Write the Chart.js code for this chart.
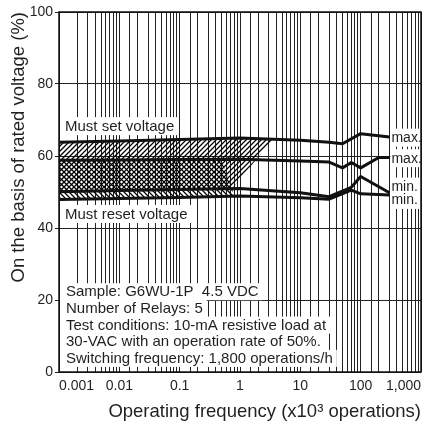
<!DOCTYPE html>
<html><head><meta charset="utf-8">
<script src="https://cdn.jsdelivr.net/npm/chart.js@4.4.1/dist/chart.umd.min.js"></script>
<style>html,body{margin:0;padding:0;background:#fff;}#wrap{width:428px;height:423px;}</style>
</head><body><div id="wrap"><canvas id="c" width="428" height="423"></canvas></div>
<script>
// ---- data ----
const xs        = [0.001, 0.01, 0.1, 1, 10, 30, 50, 70, 100, 200, 300];
const setMax    = [63.8, 64.2, 64.6, 65.0, 64.4, 63.8, 63.4, null, 66.2, null, 65.3];
const setMin    = [58.8, 58.9, 59.0, 59.1, 58.6, 58.3, 56.7, 58.2, 56.7, 59.6, 59.6];
const resetMax  = [50.1, 50.4, 50.7, 51.0, 49.8, 48.7, null, 51.3, 54.3, null, 49.8];
const resetMin  = [47.9, 48.2, 48.5, 48.9, 48.4, 48.0, null, 50.5, 49.5, null, 49.2];
const xTickValues = [0.001, 0.01, 0.1, 1, 10, 100, 1000];
const xTickLabels = ['0.001', '0.01', '0.1', '1', '10', '100', '1,000'];
const yTickValues = [0, 20, 40, 60, 80, 100];
// hatch right edges (x values at upper / lower boundary)
const setHatchEdge = [3.5, 0.75];
const resetHatchEdge = [0.49, 0.81];
const rightLabels = [['max.', 65.1], ['max.', 59.4], ['min.', 51.5], ['min.', 47.8]];
const notes = ['Sample: G6WU-1P  4.5 VDC', 'Number of Relays: 5', 'Test conditions: 10-mA resistive load at',
  '30-VAC with an operation rate of 50%.', 'Switching frequency: 1,800 operations/h'];

const FONT = '"Liberation Sans", Arial, Helvetica, sans-serif';
const TXT = '#231f20';

function toPts(vals) { return xs.map((x, i) => ({x, y: vals[i]})).filter(p => p.y !== null); }
function ds(vals) { return {data: toPts(vals), borderColor: '#111', borderWidth: 3, pointRadius: 0, tension: 0, fill: false, borderJoinStyle: 'round'}; }

function yAt(line, px) {
  for (let i = 0; i < line.length - 1; i++) {
    const a = line[i], b = line[i + 1];
    if (px >= a.x && px <= b.x) return a.y + (b.y - a.y) * (px - a.x) / (b.x - a.x);
  }
  return line[line.length - 1].y;
}
function drawHatch(ctx, ca, upper, lower, xTop, xBot, dirs) {
  const yTop = yAt(upper, xTop), yBot = yAt(lower, xBot);
  ctx.save();
  ctx.beginPath();
  upper.filter(p => p.x < xTop).forEach((p, i) => i ? ctx.lineTo(p.x, p.y) : ctx.moveTo(p.x, p.y));
  ctx.lineTo(xTop, yTop);
  ctx.lineTo(xBot, yBot);
  lower.filter(p => p.x < xBot).reverse().forEach(p => ctx.lineTo(p.x, p.y));
  ctx.closePath();
  ctx.clip();
  ctx.beginPath();
  const step = 5, h = ca.bottom - ca.top;
  for (let k = ca.left - h; k < ca.right + h; k += step) {
    if (dirs === '/') { ctx.moveTo(k, ca.bottom); ctx.lineTo(k + h, ca.top); }
    else { ctx.moveTo(k, ca.top); ctx.lineTo(k + h, ca.bottom); }
  }
  ctx.lineWidth = 1.3; ctx.strokeStyle = '#000'; ctx.stroke();
  ctx.restore();
}
function boxText(ctx, text, x, yc, left, right) {
  const w = ctx.measureText(text).width;
  const l = left !== undefined ? left : x - 4;
  const r = right !== undefined ? right : x + w + 4;
  ctx.fillStyle = '#fff';
  ctx.fillRect(l, yc - 9, r - l, 18);
  ctx.fillStyle = TXT;
  ctx.fillText(text, x, yc + 0.5);
}

const plugin = {
  id: 'deco',
  beforeDatasetsDraw(chart) {
    const {ctx, chartArea: ca, scales: {x}} = chart;
    const pts = i => chart.getDatasetMeta(i).data.map(p => ({x: p.x, y: p.y}));
    drawHatch(ctx, ca, pts(0), pts(2), x.getPixelForValue(setHatchEdge[0]), x.getPixelForValue(setHatchEdge[1]), '/');
    drawHatch(ctx, ca, pts(1), pts(3), x.getPixelForValue(resetHatchEdge[0]), x.getPixelForValue(resetHatchEdge[1]), '\\');
  },
  afterDatasetsDraw(chart) {
    const {ctx, chartArea: ca, scales: {x, y}} = chart;
    ctx.save();
    ctx.font = '15px ' + FONT;
    ctx.textBaseline = 'middle';
    ctx.textAlign = 'left';
    boxText(ctx, 'Must set voltage', ca.left + 6, y.getPixelForValue(68.3), ca.left + 1);
    boxText(ctx, 'Must reset voltage', ca.left + 6, y.getPixelForValue(43.9), ca.left + 1);
    const top = y.getPixelForValue(22.3), step = 16.67;
    notes.forEach((t, i) => {
      const yc = top + i * step;
      const w = ctx.measureText(t).width;
      ctx.fillStyle = '#fff';
      ctx.fillRect(ca.left + 1, yc - 8.5, w + 10, 17);
    });
    ctx.fillStyle = TXT;
    notes.forEach((t, i) => ctx.fillText(t, ca.left + 7, top + i * step + 0.5));
    ctx.font = '14px ' + FONT;
    const xr = x.getPixelForValue(300) + 1;
    rightLabels.forEach(([t, v]) => boxText(ctx, t, xr + 1, y.getPixelForValue(v), xr, ca.right));
    ctx.restore();
  },
  afterDraw(chart) {
    const {ctx, chartArea: ca} = chart;
    ctx.save();
    ctx.lineWidth = 1.5; ctx.strokeStyle = '#111';
    ctx.strokeRect(ca.left, ca.top, ca.right - ca.left, ca.bottom - ca.top);
    ctx.restore();
  }
};

new Chart(document.getElementById('c'), {
  type: 'line',
  data: {datasets: [ds(setMax), ds(setMin), ds(resetMax), ds(resetMin)]},
  options: {
    responsive: false, animation: false, devicePixelRatio: 1,
    layout: {padding: {top: 12, right: 7, left: 0, bottom: 0}},
    plugins: {legend: {display: false}, tooltip: {enabled: false}},
    scales: {
      x: {
        type: 'logarithmic', min: 0.001, max: 1000,
        afterFit: s => { s.height = 51; },
        grid: {color: '#222', lineWidth: 1, drawTicks: false},
        border: {display: false},
        ticks: {
          autoSkip: false, maxRotation: 0, align: 'inner', padding: 6, color: TXT,
          font: {family: FONT, size: 14},
          callback: (v) => {
            const i = xTickValues.findIndex(t => Math.abs(Math.log10(t) - Math.log10(v)) < 1e-6);
            return i >= 0 ? xTickLabels[i] : '';
          }
        },
        title: {display: true, text: 'Operating frequency (x10³ operations)', align: 'end', color: TXT,
          font: {family: FONT, size: 18.5}, padding: {top: 0, bottom: 0}}
      },
      y: {
        min: 0, max: 100,
        afterFit: s => { s.width = 59; },
        afterBuildTicks: s => { s.ticks = yTickValues.map(v => ({value: v})); },
        grid: {color: '#222', lineWidth: 1, drawTicks: true, tickLength: 4},
        border: {display: false},
        ticks: {padding: 2, color: TXT, font: {family: FONT, size: 14}},
        title: {display: true, text: 'On the basis of rated voltage (%)', align: 'end', color: TXT,
          font: {family: FONT, size: 18.5}, padding: {top: 8, bottom: 0}}
      }
    }
  },
  plugins: [plugin]
});
</script></body></html>
